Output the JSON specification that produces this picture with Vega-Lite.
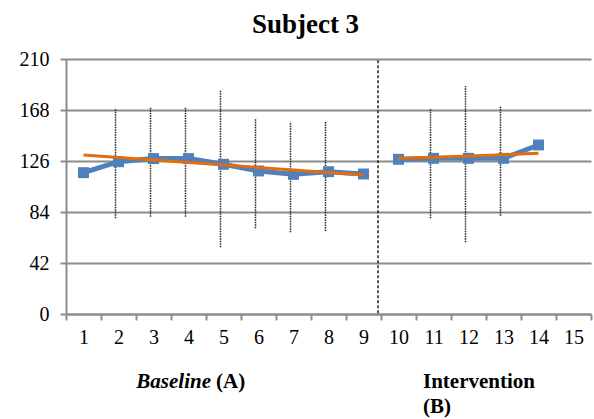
{
  "$schema": "https://vega.github.io/schema/vega-lite/v6.json",
  "width": 525,
  "height": 255,
  "autosize": {"type": "none"},
  "padding": {"left": 66, "top": 59, "right": 3, "bottom": 105},
  "background": "white",
  "title": {"text": "Subject 3", "font": "Liberation Serif", "fontSize": 27, "fontWeight": "bold", "color": "black", "anchor": "middle", "frame": "bounds", "offset": 10},
  "datasets": {
    "obs": [
      {"session": 1, "value": 116.4, "phase": "A"},
      {"session": 2, "value": 125.4, "phase": "A"},
      {"session": 3, "value": 128.0, "phase": "A"},
      {"session": 4, "value": 128.0, "phase": "A"},
      {"session": 5, "value": 123.3, "phase": "A"},
      {"session": 6, "value": 117.8, "phase": "A"},
      {"session": 7, "value": 115.0, "phase": "A"},
      {"session": 8, "value": 117.2, "phase": "A"},
      {"session": 9, "value": 115.3, "phase": "A"},
      {"session": 10, "value": 127.4, "phase": "B"},
      {"session": 11, "value": 128.2, "phase": "B"},
      {"session": 12, "value": 128.2, "phase": "B"},
      {"session": 13, "value": 128.2, "phase": "B"},
      {"session": 14, "value": 139.2, "phase": "B"}
    ],
    "err": [
      {"session": 2, "low": 78.8, "high": 168.6},
      {"session": 3, "low": 80.1, "high": 170.7},
      {"session": 4, "low": 80.1, "high": 170.7},
      {"session": 5, "low": 54.9, "high": 183.9},
      {"session": 6, "low": 70.6, "high": 161.2},
      {"session": 7, "low": 67.3, "high": 158.4},
      {"session": 8, "low": 68.4, "high": 158.9},
      {"session": 11, "low": 78.8, "high": 169.4},
      {"session": 12, "low": 59.0, "high": 187.8},
      {"session": 13, "low": 81.0, "high": 171.3}
    ],
    "trend": [
      {"session": 1, "value": 130.9, "phase": "A"},
      {"session": 9, "value": 114.5, "phase": "A"},
      {"session": 10, "value": 128.0, "phase": "B"},
      {"session": 14, "value": 132.3, "phase": "B"}
    ]
  },
  "layer": [
    {
      "data": {"name": "err"},
      "mark": {"type": "rule", "color": "#222222", "strokeWidth": 1.5, "strokeDash": [1.5, 1], "xOffset": -3},
      "encoding": {
        "x": {"field": "session", "type": "ordinal"},
        "y": {"field": "low", "type": "quantitative"},
        "y2": {"field": "high"}
      }
    },
    {
      "data": {"values": [{"at": 10}]},
      "mark": {"type": "rule", "color": "#222222", "strokeWidth": 1.5, "strokeDash": [3, 2], "xOffset": -3},
      "encoding": {
        "x": {"field": "at", "type": "ordinal", "bandPosition": 0},
        "y": {"datum": 209, "type": "quantitative"},
        "y2": {"datum": 0}
      }
    },
    {
      "data": {"name": "obs"},
      "mark": {"type": "line", "color": "#4F81BD", "strokeWidth": 5, "point": {"shape": "square", "size": 120, "filled": true, "color": "#4F81BD", "opacity": 1}},
      "encoding": {
        "x": {"field": "session", "type": "ordinal"},
        "y": {"field": "value", "type": "quantitative"},
        "detail": {"field": "phase"}
      }
    },
    {
      "data": {"name": "trend"},
      "mark": {"type": "line", "color": "#E46C0A", "strokeWidth": 3},
      "encoding": {
        "x": {"field": "session", "type": "ordinal"},
        "y": {"field": "value", "type": "quantitative"},
        "detail": {"field": "phase"}
      }
    },
    {
      "data": {"values": [{"label": "Baseline", "at": 4}]},
      "mark": {"type": "text", "font": "Liberation Serif", "fontSize": 21, "fontWeight": "bold", "fontStyle": "italic", "align": "right", "baseline": "alphabetic", "dx": 22.5, "color": "black"},
      "encoding": {
        "x": {"field": "at", "type": "ordinal"},
        "y": {"datum": -61, "type": "quantitative"},
        "text": {"field": "label"}
      }
    },
    {
      "data": {"values": [{"label": "(A)", "at": 4}]},
      "mark": {"type": "text", "font": "Liberation Serif", "fontSize": 21, "fontWeight": "bold", "align": "left", "baseline": "alphabetic", "dx": 27.5, "color": "black"},
      "encoding": {
        "x": {"field": "at", "type": "ordinal"},
        "y": {"datum": -61, "type": "quantitative"},
        "text": {"field": "label"}
      }
    },
    {
      "data": {"values": [{"label": "Intervention", "at": 11}]},
      "mark": {"type": "text", "font": "Liberation Serif", "fontSize": 21, "fontWeight": "bold", "align": "left", "baseline": "alphabetic", "dx": -10.5, "lineHeight": 25, "color": "black", "text": ["Intervention", "(B)"]},
      "encoding": {
        "x": {"field": "at", "type": "ordinal"},
        "y": {"datum": -61, "type": "quantitative"}
      }
    }
  ],
  "encoding": {
    "x": {
      "field": "session",
      "type": "ordinal",
      "scale": {"domain": [1, 2, 3, 4, 5, 6, 7, 8, 9, 10, 11, 12, 13, 14, 15], "paddingInner": 0, "paddingOuter": 0},
      "axis": {"title": null, "labelAngle": 0, "tickBand": "extent", "grid": false, "labelFont": "Liberation Serif", "labelFontSize": 20, "labelColor": "black", "labelPadding": 7, "domainColor": "#8c8c8c", "domainWidth": 2, "tickColor": "#8c8c8c", "tickWidth": 2, "tickSize": 6}
    },
    "y": {
      "type": "quantitative",
      "scale": {"domain": [0, 210], "nice": false},
      "axis": {"title": null, "values": [0, 42, 84, 126, 168, 210], "grid": true, "gridColor": "#8c8c8c", "gridWidth": 2, "domainColor": "#8c8c8c", "domainWidth": 2, "tickColor": "#8c8c8c", "tickWidth": 2, "tickSize": 6, "labelFont": "Liberation Serif", "labelFontSize": 20, "labelColor": "black", "labelPadding": 11}
    }
  },
  "config": {"view": {"stroke": null}}
}
